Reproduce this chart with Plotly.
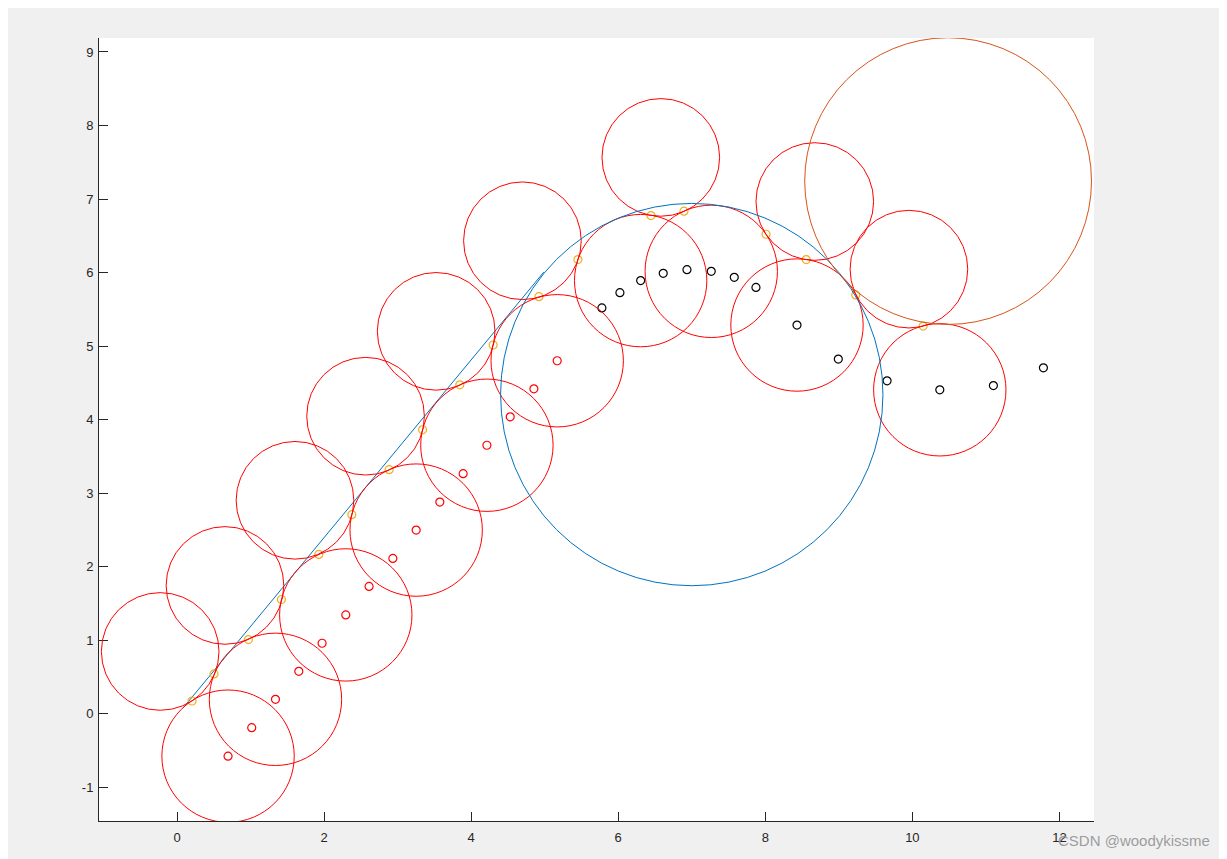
import plotly.graph_objects as go

# ---- data ----
red_x = [0.694, 1.016, 1.339, 1.656, 1.973, 2.295, 2.612, 2.935, 3.252, 3.574, 3.891, 4.214, 4.531, 4.853, 5.170]
red_y = [-0.578, -0.191, 0.195, 0.576, 0.958, 1.343, 1.730, 2.112, 2.497, 2.878, 3.264, 3.651, 4.037, 4.418, 4.800]

black_x = [5.778, 6.023, 6.305, 6.612, 6.935, 7.265, 7.578, 7.873, 8.431, 8.993, 9.656, 10.373, 11.102, 11.782]
black_y = [5.518, 5.726, 5.890, 5.989, 6.039, 6.016, 5.935, 5.798, 5.286, 4.823, 4.527, 4.405, 4.463, 4.704]

yellow_x = [0.204, 0.503, 0.971, 1.420, 1.928, 2.377, 2.884, 3.339, 3.846, 4.299, 4.921, 5.452,
            6.445, 6.894, 8.010, 8.556, 9.230, 10.146]
yellow_y = [0.172, 0.540, 1.008, 1.553, 2.166, 2.706, 3.319, 3.860, 4.473, 5.014, 5.672, 6.176,
            6.775, 6.834, 6.521, 6.176, 5.695, 5.272]

# big red circles (radius 0.9) centred on path points
lower_cx = [0.694, 1.339, 2.295, 3.252, 4.214, 5.170, 6.305, 7.265, 8.431, 10.373]
lower_cy = [-0.578, 0.195, 1.343, 2.497, 3.651, 4.800, 5.890, 6.016, 5.286, 4.405]
lower_r = 0.9

# big red circles (radius 0.8) on the other side
upper_cx = [-0.229, 0.652, 1.604, 2.564, 3.524, 4.697, 6.579, 8.673, 9.953]
upper_cy = [0.846, 1.744, 2.902, 4.046, 5.200, 6.432, 7.566, 6.966, 6.046]
upper_r = 0.8

# blue circle and orange circle: centre x, centre y, radius
blue_circle = (7.0, 4.34, 2.6)
orange_circle = (10.486, 7.244, 1.95)

# blue straight segment
line_x = [0.085, 4.987]
line_y = [0.080, 6.005]

x_ticks = [0, 2, 4, 6, 8, 10, 12]
x_labels = ["0", "2", "4", "6", "8", "10", "12"]
y_ticks = [-1, 0, 1, 2, 3, 4, 5, 6, 7, 8, 9]
y_labels = ["-1", "0", "1", "2", "3", "4", "5", "6", "7", "8", "9"]

RED = "#FF0000"
BLUE = "#0072BD"
ORANGE = "#D95319"
YELLOW = "#EDB120"
AX = "#262626"

fig = go.Figure()

fig.add_trace(go.Scatter(x=line_x, y=line_y, mode="lines",
                         line=dict(color=BLUE, width=1), hoverinfo="skip"))
fig.add_trace(go.Scatter(x=red_x, y=red_y, mode="markers",
                         marker=dict(symbol="circle-open", size=8, color=RED, line=dict(width=1.2))))
fig.add_trace(go.Scatter(x=yellow_x, y=yellow_y, mode="markers",
                         marker=dict(symbol="circle-open", size=8, color=YELLOW, line=dict(width=1.2))))
fig.add_trace(go.Scatter(x=black_x, y=black_y, mode="markers",
                         marker=dict(symbol="circle-open", size=8, color="black", line=dict(width=1.2))))

shapes = []
for cx, cy in zip(lower_cx, lower_cy):
    shapes.append(dict(type="circle", xref="x", yref="y", x0=cx - lower_r, x1=cx + lower_r,
                       y0=cy - lower_r, y1=cy + lower_r, line=dict(color=RED, width=1)))
for cx, cy in zip(upper_cx, upper_cy):
    shapes.append(dict(type="circle", xref="x", yref="y", x0=cx - upper_r, x1=cx + upper_r,
                       y0=cy - upper_r, y1=cy + upper_r, line=dict(color=RED, width=1)))
for (cx, cy, r), col in [(blue_circle, BLUE), (orange_circle, ORANGE)]:
    shapes.append(dict(type="circle", xref="x", yref="y", x0=cx - r, x1=cx + r,
                       y0=cy - r, y1=cy + r, line=dict(color=col, width=1)))

# page body adds an 8 px offset, so the figure is 8 px smaller and margins shifted
fig.update_layout(
    width=1219, height=851,
    margin=dict(l=91, r=133, t=30, b=38),
    paper_bgcolor="#F0F0F0", plot_bgcolor="white",
    showlegend=False,
    shapes=shapes,
    font=dict(family="Liberation Sans, Arial, sans-serif", size=13, color=AX),
    annotations=[dict(text="CSDN @woodykissme", xref="paper", yref="paper",
                      x=1.1186, y=-0.0243, xanchor="right", yanchor="middle",
                      showarrow=False, font=dict(size=15, color="rgba(140,140,140,0.85)"))],
)
fig.update_xaxes(range=[-1.061, 12.47], tickvals=x_ticks, ticktext=x_labels,
                 showgrid=False, zeroline=False,
                 showline=True, linecolor=AX, linewidth=1, ticks="inside", ticklen=9,
                 tickcolor=AX, tickwidth=1, ticklabelstandoff=4)
fig.update_yaxes(range=[-1.46, 9.19], tickvals=y_ticks, ticktext=y_labels,
                 showgrid=False, zeroline=False,
                 showline=True, linecolor=AX, linewidth=1, ticks="inside", ticklen=9,
                 tickcolor=AX, tickwidth=1, ticklabelstandoff=2)

fig.write_html("out.html")
